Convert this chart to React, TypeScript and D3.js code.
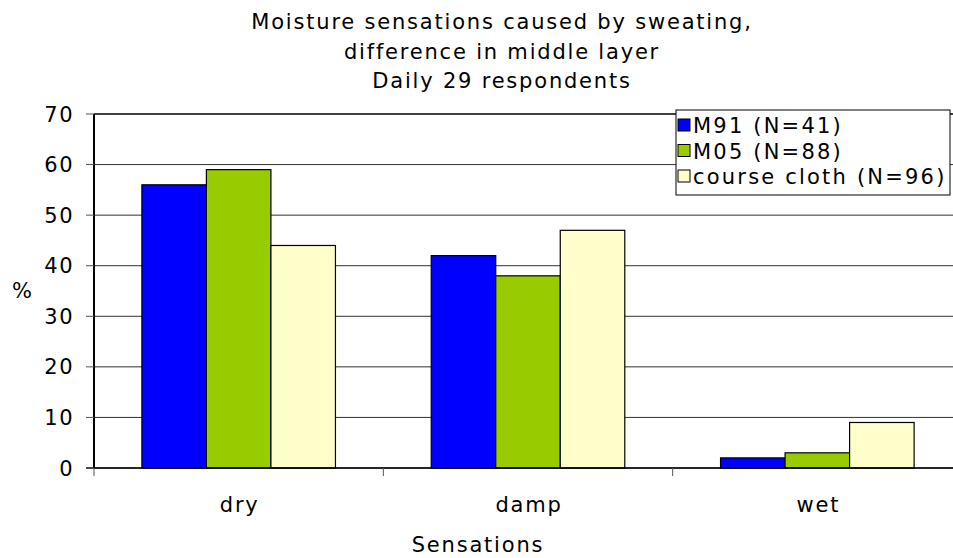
import React from "react";
import * as d3 from "d3";

const categories = ["dry", "damp", "wet"];
const seriesNames = ["M91 (N=41)", "M05 (N=88)", "course cloth (N=96)"];
const seriesColors = ["#0000FF", "#99CC00", "#FFFFCC"];
const m91 = [56, 42, 2];
const m05 = [59, 38, 3];
const courseCloth = [44, 47, 9];
const yTicks = [0, 10, 20, 30, 40, 50, 60, 70];
const titleLines = [
  "Moisture sensations caused by sweating,",
  "difference in middle layer",
  "Daily 29 respondents",
];
const xTitle = "Sensations";
const yTitle = "%";

const W = 953;
const H = 558;
const FONT = "'DejaVu Sans', Verdana, sans-serif";

export default function App() {
  const series = [m91, m05, courseCloth];
  const left = 94;
  const right = 962;
  const top = 114;
  const bottom = 468;

  const x0 = d3.scaleBand<string>().domain(categories).range([left, right]).padding(0);
  const step = x0.bandwidth();
  const gap = step * 0.1655;
  const x1 = d3
    .scaleBand<string>()
    .domain(seriesNames)
    .range([gap, step - gap])
    .padding(0);
  const y = d3.scaleLinear().domain([0, 70]).range([bottom, top]);

  const legendRows = seriesNames.map((n, i) => ({ n, i }));

  return (
    <svg
      width={W}
      height={H}
      style={{ position: "absolute", left: 0, top: 0, background: "#fff" }}
      fontFamily={FONT}
    >
      <rect x={0} y={0} width={W} height={H} fill="#fff" />
      {/* title */}
      {titleLines.map((t, i) => (
        <text
          key={i}
          x={502}
          y={29 + i * 29.5}
          textAnchor="middle"
          fontSize={21}
          letterSpacing={1.8}
          fill="#000"
        >
          {t}
        </text>
      ))}

      {/* gridlines */}
      {yTicks.map((t) => (
        <line
          key={t}
          x1={left}
          x2={right}
          y1={y(t)}
          y2={y(t)}
          stroke={t === 70 ? "#000" : "#333"}
          strokeWidth={t === 70 ? 1.5 : 1}
        />
      ))}

      {/* bars */}
      {categories.map((c, ci) => (
        <g key={c} transform={`translate(${x0(c)},0)`}>
          {series.map((s, si) => (
            <rect
              key={si}
              x={x1(seriesNames[si])}
              y={y(s[ci])}
              width={x1.bandwidth()}
              height={y(0) - y(s[ci])}
              fill={seriesColors[si]}
              stroke="#000"
              strokeWidth={1.2}
            />
          ))}
        </g>
      ))}

      {/* axes */}
      <line x1={left} x2={left} y1={top} y2={bottom} stroke="#000" strokeWidth={2} />
      <line x1={left - 8} x2={right} y1={bottom} y2={bottom} stroke="#000" strokeWidth={1.5} />
      {yTicks.map((t) => (
        <g key={t}>
          <line x1={left - 8} x2={left} y1={y(t)} y2={y(t)} stroke="#555" strokeWidth={1} />
          <text
            x={74}
            y={y(t)}
            dy="0.36em"
            textAnchor="end"
            fontSize={21}
            letterSpacing={1.5}
            fill="#000"
          >
            {t}
          </text>
        </g>
      ))}
      {categories.map((c) => (
        <line
          key={c}
          x1={x0(c)}
          x2={x0(c)}
          y1={bottom}
          y2={bottom + 8}
          stroke="#555"
          strokeWidth={1}
        />
      ))}
      {categories.map((c) => (
        <text
          key={c}
          x={(x0(c) as number) + step / 2 + 1}
          y={512}
          textAnchor="middle"
          fontSize={21}
          letterSpacing={1.8}
          fill="#000"
        >
          {c}
        </text>
      ))}
      <text x={478} y={552} textAnchor="middle" fontSize={21} letterSpacing={1.8} fill="#000">
        {xTitle}
      </text>
      <text x={22} y={298} textAnchor="middle" fontSize={21} fill="#000">
        {yTitle}
      </text>

      {/* legend */}
      <rect x={676} y={110} width={274} height={85} fill="#fff" stroke="#000" strokeWidth={1} />
      {legendRows.map(({ n, i }) => (
        <g key={n}>
          <rect
            x={678}
            y={119 + i * 25.5}
            width={12}
            height={12}
            fill={seriesColors[i]}
            stroke="#000"
            strokeWidth={1}
          />
          <text
            x={693}
            y={133 + i * 25.5}
            fontSize={21}
            letterSpacing={2.2}
            fill="#000"
          >
            {n}
          </text>
        </g>
      ))}
    </svg>
  );
}
